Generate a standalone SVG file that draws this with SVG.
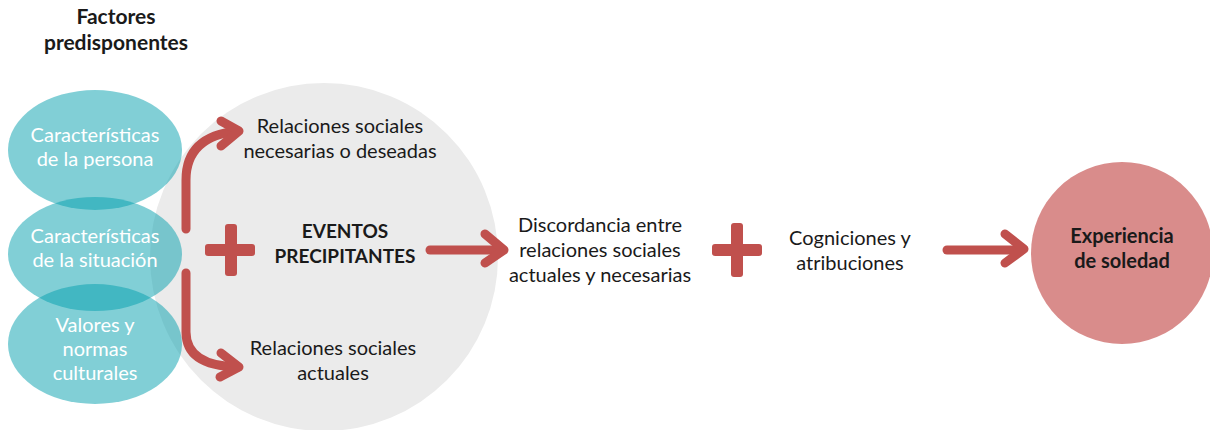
<svg xmlns="http://www.w3.org/2000/svg" width="1210" height="430" viewBox="0 0 1210 430">
<defs>
<style>
.t{font-family:Lato,"Open Sans","Liberation Sans",sans-serif;font-size:20px;fill:#1a1a1a;text-anchor:middle}
.b{font-weight:bold}
.e{font-size:19px}
.h{font-size:21px}
.w{fill:#ffffff}
.teal{fill:#039fad;fill-opacity:0.5}
.arr{fill:none;stroke:#c0504d;stroke-width:9;stroke-linecap:round;stroke-linejoin:round}
.plus{fill:#c0504d}
</style>
</defs>
<rect width="1210" height="430" fill="#ffffff"/>
<g id="title">
<text class="t b h" x="116" y="24">Factores</text>
<text class="t b h" x="116" y="50">predisponentes</text>
</g>
<g id="eventos-circle">
<circle cx="324" cy="257" r="174" fill="#ebebeb"/>
</g>
<g id="persona">
<ellipse class="teal" cx="95" cy="150" rx="87" ry="60"/>
<text class="t w" x="95" y="142">Características</text>
<text class="t w" x="95" y="166">de la persona</text>
</g>
<g id="situacion">
<ellipse class="teal" cx="95" cy="254" rx="87" ry="57"/>
<text class="t w" x="95" y="243">Características</text>
<text class="t w" x="95" y="267">de la situación</text>
</g>
<g id="valores">
<ellipse class="teal" cx="95" cy="344" rx="87" ry="60"/>
<text class="t w" x="95" y="332">Valores y</text>
<text class="t w" x="95" y="356">normas</text>
<text class="t w" x="95" y="380">culturales</text>
</g>
<g id="connectors">
<path class="arr" d="M186,229 V180 Q186,136 238,131"/>
<path class="arr" d="M221,121 L239,131 L221,146"/>
<path class="arr" d="M186,273 V332 Q186,366 238,367"/>
<path class="arr" d="M221,353 L239,367 L220,377"/>
<path class="arr" d="M430,250 H503"/>
<path class="arr" d="M485,234 L504,250 L485,263"/>
<path class="arr" d="M947,250 H1022"/>
<path class="arr" d="M1005,234 L1024,249 L1005,263"/>
</g>
<g id="plus1">
<rect class="plus" x="205" y="244" width="50" height="12" rx="3"/>
<rect class="plus" x="225" y="224" width="12" height="52" rx="3"/>
</g>
<g id="necesarias">
<text class="t" x="340" y="133">Relaciones sociales</text>
<text class="t" x="340" y="158">necesarias o deseadas</text>
</g>
<g id="eventos">
<text class="t b e" x="345" y="238">EVENTOS</text>
<text class="t b e" x="345" y="263">PRECIPITANTES</text>
</g>
<g id="actuales">
<text class="t" x="333" y="355">Relaciones sociales</text>
<text class="t" x="333" y="380">actuales</text>
</g>
<g id="discordancia">
<text class="t" x="600" y="232">Discordancia entre</text>
<text class="t" x="600" y="257">relaciones sociales</text>
<text class="t" x="600" y="282">actuales y necesarias</text>
</g>
<g id="plus2">
<rect class="plus" x="712" y="244" width="50" height="12" rx="3"/>
<rect class="plus" x="731" y="223" width="12" height="54" rx="3"/>
</g>
<g id="cogniciones">
<text class="t" x="850" y="245">Cogniciones y</text>
<text class="t" x="850" y="270">atribuciones</text>
</g>
<g id="experiencia">
<circle cx="1122" cy="253" r="91" fill="#d98c8b"/>
<text class="t b" x="1122" y="243">Experiencia</text>
<text class="t b" x="1122" y="268">de soledad</text>
</g>
</svg>
